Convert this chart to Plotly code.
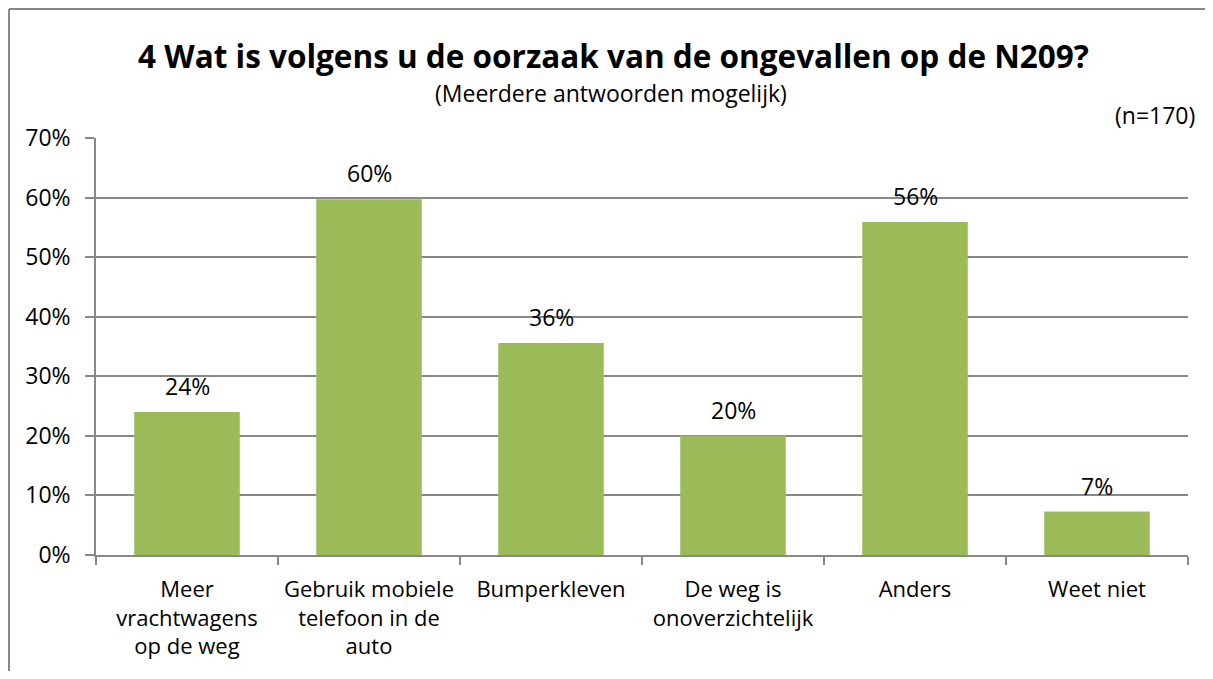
import plotly.graph_objects as go

categories = ['Meer<br>vrachtwagens<br>op de weg', 'Gebruik mobiele<br>telefoon in de<br>auto',
              'Bumperkleven', 'De weg is<br>onoverzichtelijk', 'Anders', 'Weet niet']
values = [0.24, 0.597, 0.356, 0.20, 0.559, 0.073]
y_ticks = [0, 0.1, 0.2, 0.3, 0.4, 0.5, 0.6, 0.7]
y_ticklabels = ['0%', '10%', '20%', '30%', '40%', '50%', '60%', '70%']

# the page body has an 8px margin, so work in screen px and shift;
# keep the figure small enough that no scrollbar shows up
OFF = 8
W, H = 1213 - 2 * OFF, 679 - 2 * OFF
L, T = 96 - OFF, 138 - OFF
R, B = W - (1188 - OFF), H - (555 - OFF)
pw, ph = W - L - R, H - T - B

def px_x(x):
    return (x - OFF - L) / pw

def px_y(y):
    return 1 - (y - OFF - T) / ph

font = 'Open Sans, Liberation Sans, sans-serif'
border = dict(color='#888', width=2)

fig = go.Figure(go.Bar(
    x=categories, y=values,
    marker=dict(color='#9BBB59', line=dict(width=0)),
    hoverinfo='x+y',
))

fig.update_layout(
    width=W, height=H,
    margin=dict(l=L, r=R, t=T, b=B, pad=0),
    paper_bgcolor='white', plot_bgcolor='white',
    font=dict(family=font, color='black', size=23),
    bargap=0.42,
    showlegend=False,
    xaxis=dict(showline=True, linecolor='#888', linewidth=1.5, ticks='outside',
               tickson='boundaries', ticklen=8, tickcolor='#888', tickwidth=1.5,
               tickfont=dict(size=22), tickangle=0, showgrid=False, automargin=False,
               ticklabelstandoff=14),
    yaxis=dict(range=[0, 0.7], tickvals=y_ticks, ticktext=y_ticklabels,
               showline=True, linecolor='#888', linewidth=1.5, ticks='outside',
               ticklen=9, tickcolor='#888', tickwidth=1.5,
               showgrid=True, gridcolor='#888', gridwidth=1.5,
               zeroline=False, tickfont=dict(size=23), automargin=False,
               ticklabelstandoff=10),
    shapes=[
        dict(type='line', xref='paper', yref='paper',
             x0=px_x(9), x1=px_x(1260), y0=px_y(9), y1=px_y(9), line=border),
        dict(type='line', xref='paper', yref='paper',
             x0=px_x(9), x1=px_x(9), y0=px_y(9), y1=px_y(720), line=border),
    ],
    annotations=[
        dict(text='<b>4 Wat is volgens u de oorzaak van de ongevallen op de N209?</b>',
             xref='paper', yref='paper', x=px_x(613), y=px_y(56), showarrow=False,
             xanchor='center', yanchor='middle', font=dict(size=31.5)),
        dict(text='(Meerdere antwoorden mogelijk)',
             xref='paper', yref='paper', x=px_x(611), y=px_y(93), showarrow=False,
             xanchor='center', yanchor='middle', font=dict(size=23)),
        dict(text='(n=170)',
             xref='paper', yref='paper', x=px_x(1197), y=px_y(115), showarrow=False,
             xanchor='right', yanchor='middle', font=dict(size=23)),
    ],
)

for c, v in zip(categories, values):
    fig.add_annotation(x=c, y=v, text=f'{v:.0%}', showarrow=False,
                       yanchor='middle', yshift=26, font=dict(size=23))

fig.write_html('out.html')
